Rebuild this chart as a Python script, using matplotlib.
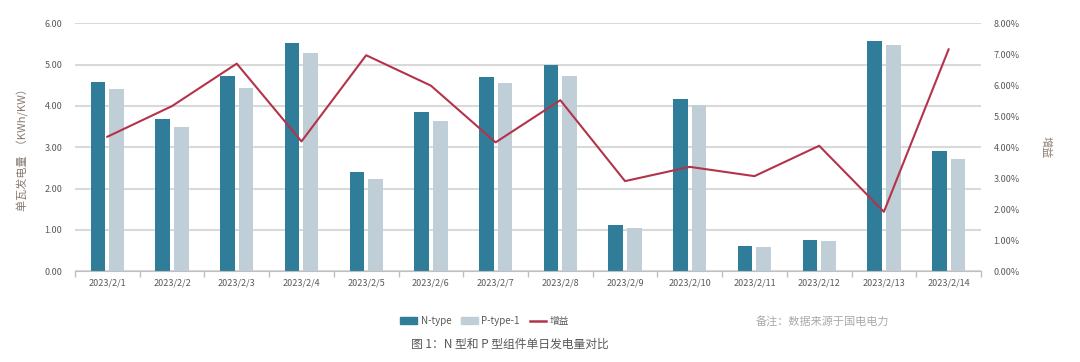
import numpy as np
import matplotlib.pyplot as plt
from matplotlib.patches import Patch
from matplotlib.lines import Line2D
from matplotlib.ticker import FuncFormatter

plt.rcParams['font.family'] = ['Noto Sans CJK SC', 'DejaVu Sans']

# data
dates = ['2023/2/1', '2023/2/2', '2023/2/3', '2023/2/4', '2023/2/5', '2023/2/6', '2023/2/7',
         '2023/2/8', '2023/2/9', '2023/2/10', '2023/2/11', '2023/2/12', '2023/2/13', '2023/2/14']
n_type = [4.59, 3.68, 4.73, 5.52, 2.40, 3.85, 4.71, 5.00, 1.11, 4.16, 0.61, 0.76, 5.56, 2.90]
p_type = [4.40, 3.49, 4.44, 5.28, 2.23, 3.64, 4.55, 4.73, 1.06, 4.02, 0.59, 0.73, 5.48, 2.71]
gain = [4.34, 5.33, 6.70, 4.19, 6.97, 5.99, 4.16, 5.52, 2.91, 3.37, 3.07, 4.05, 1.92, 7.16]

c_n = '#2f7d99'
c_p = '#c0ced8'
c_line = '#b3344a'
c_grid = '#d9d9d9'
c_text = '#595959'

fig = plt.figure(figsize=(10.8, 3.62), dpi=100)
ax = fig.add_axes([0.0694, 0.2505, 0.8389, 0.6851])
ax2 = ax.twinx()

x = np.arange(len(dates))
w = 0.227
ax.bar(x - 0.144, n_type, w, color=c_n, zorder=2)
ax.bar(x + 0.144, p_type, w, color=c_p, zorder=2)
ax2.plot(x, gain, color=c_line, lw=1.5, zorder=3)

ax.set_xlim(-0.5, len(dates) - 0.5)
ax.set_ylim(0, 6)
ax2.set_ylim(0, 8)
ax.set_yticks(np.arange(0, 6.1, 1))
ax2.set_yticks(np.arange(0, 8.1, 1))
ax.yaxis.set_major_formatter(FuncFormatter(lambda v, p: '%.2f' % v))
ax2.yaxis.set_major_formatter(FuncFormatter(lambda v, p: '%.2f%%' % v))
ax.grid(axis='y', color=c_grid, lw=1.5, zorder=0)
ax.set_axisbelow(True)

# x ticks: labels at centers, tick marks between categories
ax.set_xticks(x)
ax.set_xticklabels(dates, fontsize=6.5, color=c_text)
ax.tick_params(axis='x', which='major', length=0, pad=5)
ax.set_xticks(np.arange(-0.5, len(dates)), minor=True)
ax.tick_params(axis='x', which='minor', length=4, color='#bfbfbf', width=1)

ax.tick_params(axis='y', length=0, labelsize=6.5, labelcolor=c_text, pad=9)
ax2.tick_params(axis='y', length=0, labelsize=6.5, labelcolor=c_text, pad=9)

for a in (ax, ax2):
    for s in ('top', 'left', 'right'):
        a.spines[s].set_visible(False)
ax.spines['bottom'].set_color('#bfbfbf')
ax2.spines['bottom'].set_visible(False)

ax.set_ylabel('单瓦发电量  （KWh/KW）', fontsize=8, color='#8a7a70', labelpad=11)
ax2.set_ylabel('增益', fontsize=8, color='#8a7a70', rotation=270, labelpad=22)

handles = [Patch(color=c_n), Patch(color=c_p), Line2D([0], [0], color=c_line, lw=1.8)]
fig.legend(handles, ['N-type', 'P-type-1', '增益'], loc='center', ncol=3,
           bbox_to_anchor=(0.449, 0.113), frameon=False, fontsize=7,
           handlelength=1.7, handleheight=0.7, columnspacing=1.0, handletextpad=0.4,
           labelcolor=c_text)

fig.text(0.700, 0.113, '备注：数据来源于国电电力', fontsize=8, color='#aaaaaa', va='center')
fig.text(0.381, 0.050, '图 1：N 型和 P 型组件单日发电量对比', fontsize=8.5, color=c_text, va='center')

fig.savefig('out.png', dpi=100)
